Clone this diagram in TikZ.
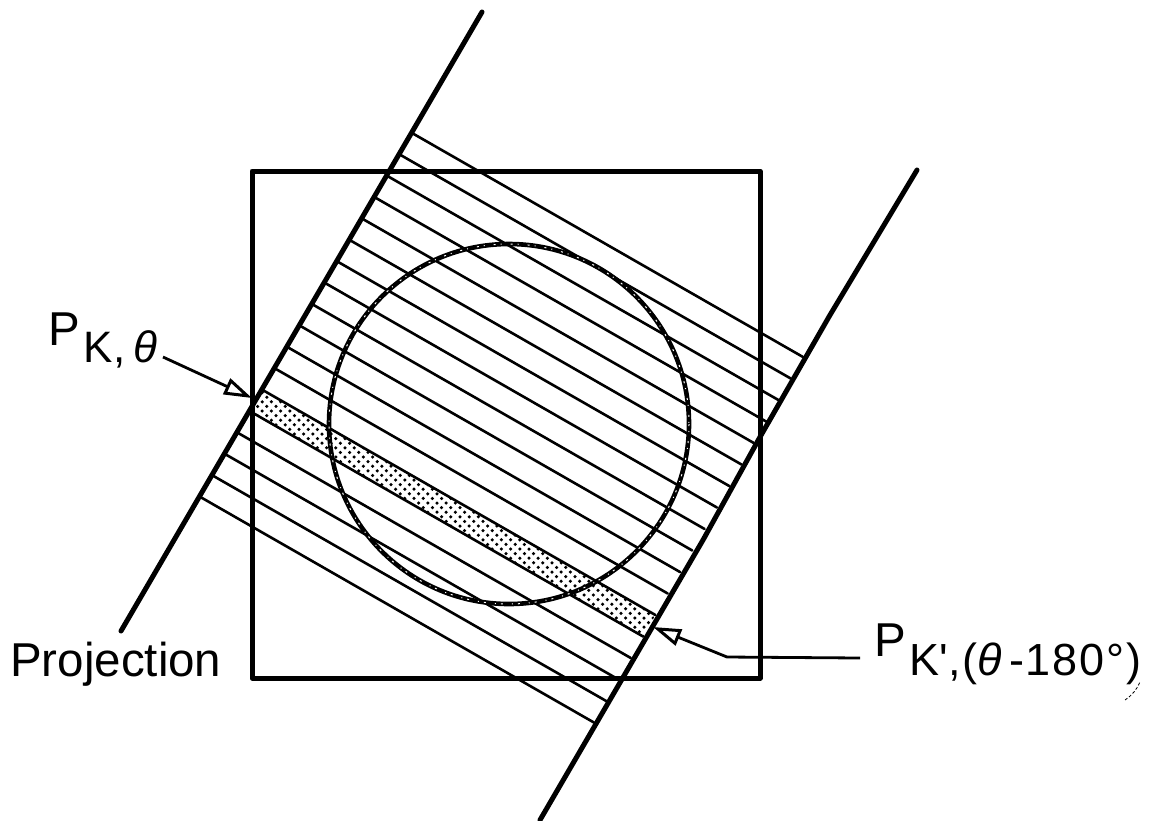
\documentclass[tikz,border=0pt]{standalone}
\usepackage{fontspec}
\setmainfont{Liberation Sans}
\usetikzlibrary{arrows.meta}
\tikzset{
  hatchline/.style={line width=2.6pt,line cap=round},
  heavy/.style={line width=5pt},
  projline/.style={line width=5pt,line cap=round,line join=round},
  lab/.style={anchor=base west,inner sep=0pt,font=\fontsize{47.5}{50}\selectfont},
  pointer/.style={line width=2.8pt,line join=round,-{Triangle[open,length=28pt,width=17pt,line width=3pt]}}
}
\begin{document}
\begin{tikzpicture}[x=1pt,y=-1pt]
\useasboundingbox (0,0) rectangle (1153,820);
\fill[white] (0,0) rectangle (1153,820);
% hatch lines
\foreach \i in {0,...,17}{
  \draw[hatchline] ({412-12.47*\i},{133+21.4*\i}) -- ({803-12.3*\i},{357+21.5*\i});
}
% dotted band
\coordinate (s1) at (262.4,389.8);
\coordinate (s2) at (655.4,615);
\coordinate (s3) at (643.1,636.5);
\coordinate (s4) at (249.9,411.2);
\begin{scope}
\clip (s1) -- (s2) -- (s3) -- (s4) -- cycle;
\foreach \r in {0,...,54}{
  \pgfmathsetmacro{\yy}{388+4.6*\r}
  \pgfmathsetmacro{\xc}{252+(\yy-400)*1.73}
  \pgfmathsetmacro{\xb}{9.2*floor(\xc/9.2)+4.6*mod(\r,2)}
  \foreach \k in {-4,...,4}{
    \fill ({\xb+9.2*\k},\yy) circle (1.75pt);
  }
}
\end{scope}
% square
\draw[heavy,line join=round] (252,171) rectangle (760,678);
% projection axes
\draw[projline] (482,12) -- (121,631);
\draw[projline] (917,170) -- (830,315) -- (760,437) -- (703,540) -- (540,820);
% circle
\draw[line width=4.6pt] (509,424) circle (180);
\draw[white,line width=1pt,dash pattern=on 2pt off 5pt on 1pt off 9pt] (509,424) circle (180);
% labels
\node[lab] (pk) at (48,345) {P\raisebox{-17pt}{\kern4pt\fontsize{44}{48}\selectfont K,\kern8pt\textit{θ}}};
\node[lab] (pkp) at (874,656) {P\raisebox{-19pt}{\kern4pt\fontsize{45}{48}\selectfont\addfontfeatures{LetterSpace=4}K\textquotesingle,(\textit{θ}\kern5pt-180°)}};
\node[lab] (proj) at (10,676) {Projection};
% pointers
\coordinate (a1) at (163,357);
\coordinate (a2) at (252,398);
\draw[pointer] (a1) -- (a2);
\coordinate (b1) at (860,658);
\coordinate (b2) at (727,657);
\coordinate (b3) at (653,627);
\draw[pointer] (b1) -- (b2) -- (b3);
% stray pen mark
\coordinate (m1) at (1125,700);
\coordinate (m2) at (1140,682);
\draw[line width=0.8pt,densely dashed] (m1) to[bend right=15] (m2);
\end{tikzpicture}
\end{document}
